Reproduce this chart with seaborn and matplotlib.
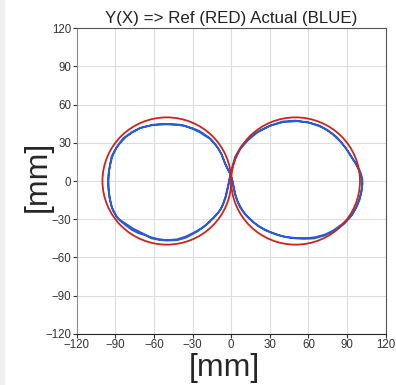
import pandas as pd
import matplotlib.pyplot as plt
import seaborn as sns
from matplotlib.patches import Rectangle, Circle

# Reference path (red): the figure eight is two circles
ref_cx = [-50, 50]
ref_cy = [0, 0]
ref_r = [50, 50]

# Actual path (blue), traced by eye, two passes plus the start stub
act_x = [-16.5, -22, -28, -35, -42, -50, -57, -63, -70, -76, -82, -88, -91, -93, -94.8, -95.5, -95.3, -94.2,
         -93, -90.5, -88, -84, -77, -71, -62, -56, -50, -42, -36, -30, -24, -19.5, -16, -11, -7.5, -5, -2.5,
         -0.5,
         1, 2, 3, 4.5, 6.5, 9, 14.5, 21, 30, 40, 50, 60, 66, 73, 79, 86, 90.5, 93.5, 97.5, 100, 101.5, 101.5,
         100.5, 98.5, 96.5, 94.8, 92, 89, 82, 75, 68, 60, 51, 40, 30, 22, 14.6, 8, 3, 0.5, -0.5,
         -1.5, -2.5, -4, -6.5, -9.5, -14, -19, -26, -35, -42, -50, -56, -62, -67, -72, -77, -81, -86, -89.5,
         -92, -94, -95.2, -95.5, -95, -93.5, -92, -89.5, -87, -82, -77, -70, -60, -50, -39, -30, -25, -22,
         -17, -13, -10, -7.5, -5.5, -3.5, -2, -0.5,
         0.5, 1.5, 2.5, 3.5, 5, 7, 9.5, 12, 18, 26, 36, 46, 56, 64, 72, 80, 88, 92, 94.5, 97.5, 99.5, 101,
         102, 101.8, 101, 99.5, 96, 91, 85, 78, 70, 60, 50, 40, 30, 20, 13, 9.5, 7, 4.5, 3, 1.5, 0.5, -0.5,
         -1.5, -2.5, -3.5, -4.5, -6, -8, -10.5, -13.5, -17]
act_y = [-32, -36.5, -40, -43.5, -45.8, -46.5, -45.5, -44, -40.5, -37.5, -33.5, -29.5, -24, -20, -12, -4, 5,
         12, 19, 24, 28, 33.5, 38.5, 41.5, 43.8, 44.4, 44.5, 44.2, 43.2, 41, 38, 35, 33, 27, 21, 14, 9, 5,
         0, -5, -10, -15, -20, -24, -30, -35.5, -40, -43.5, -44.8, -44.8, -44, -42, -39, -34, -30, -27, -20,
         -14, -6, 0, 5, 10, 14, 16.5, 21, 26, 34.5, 40, 43.8, 46, 47, 46.2, 43.5, 39.5, 34.6, 27.5, 19, 10, 5,
         0, -5, -12, -19, -24, -29, -34, -39.5, -44.5, -46.5, -46.8, -46.3, -45, -42.5, -41, -38.5, -35.5,
         -31.5, -27.5, -23, -15, -7, 0, 8, 15, 20, 25.5, 29, 34.5, 38, 42, 44.3, 44.8, 44.2, 41.5, 39.5, 37.5,
         34, 29.5, 25.5, 21, 16, 11, 8, 5,
         2, -3, -8, -12, -16, -20, -24, -27.5, -33, -38.5, -42.5, -44.8, -45.5, -45.2, -43, -39.5, -33.5, -29,
         -25.5, -20, -14, -9, -2, 2, 5, 9, 15, 23, 31, 37.5, 42.5, 46, 47.5, 46.8, 43.3, 38, 32, 28, 25, 20,
         17, 12, 9, 5,
         1, -4, -8, -12.5, -17, -22, -25.5, -29, -32]

ticks = [-120, -90, -60, -30, 0, 30, 60, 90, 120]

act = pd.DataFrame({'x': act_x, 'y': act_y})

sns.set_style('white')
plt.rcParams['font.family'] = ['Liberation Sans', 'DejaVu Sans']

fig = plt.figure(figsize=(3.96, 3.85), dpi=100)
fig.patches.append(Rectangle((0, 0), 0.0101, 1, transform=fig.transFigure, color='#f0f0f0', zorder=0))
ax = fig.add_axes([0.1937, 0.1332, 0.7803, 0.7933])

sns.lineplot(data=act, x='x', y='y', sort=False, estimator=None, color='#2b5bd3', lw=1.3,
             solid_joinstyle='round', ax=ax, zorder=3)
for cx, cy, r in zip(ref_cx, ref_cy, ref_r):
    ax.add_patch(Circle((cx, cy), r, fill=False, edgecolor='#c9251c', lw=1.3, zorder=4))

ax.set_xlim(-120, 120)
ax.set_ylim(-120, 120)
ax.set_xticks(ticks)
ax.set_yticks(ticks)
ax.grid(True, color='#dcdcdc', lw=0.8)
ax.set_axisbelow(True)
ax.tick_params(direction='out', length=3, width=0.8, labelsize=8.3, pad=1,
               color='#333333', labelcolor='#333333', left=True, bottom=True)

ax.spines['left'].set_color('#8c8c8c')
ax.spines['bottom'].set_color('#222222')
ax.spines['top'].set_color('#555555')
ax.spines['right'].set_color('#555555')
for s in ax.spines.values():
    s.set_linewidth(0.8)

ax.set_title('Y(X) => Ref (RED) Actual (BLUE)', fontsize=12.2, color='#222222', pad=4)
ax.set_xlabel('[mm]', fontsize=23)
ax.set_ylabel('[mm]', fontsize=23)
ax.xaxis.set_label_coords(0.479, -0.062)
ax.yaxis.set_label_coords(-0.077, 0.515)

fig.savefig('out.png', dpi=100)
